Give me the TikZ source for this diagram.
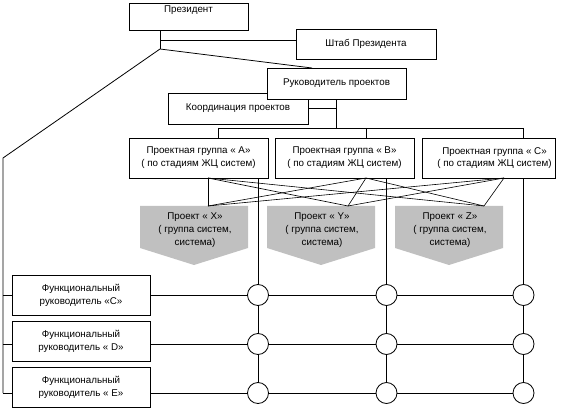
\documentclass[tikz,border=0pt]{standalone}
\usepackage{fontspec}
\setmainfont{Liberation Sans}
\begin{document}
\begin{tikzpicture}[x=1pt,y=-1pt,
  box/.style={draw, fill=white, line width=0.8pt, inner sep=0pt, align=center, font=\fontsize{9.8}{12.8}\selectfont},
  lbl/.style={inner sep=0pt, align=center, font=\fontsize{9.8}{12.8}\selectfont},
  knot/.style={circle, draw, fill=white, line width=0.8pt, minimum size=21pt, inner sep=0pt},
  wire/.style={line width=0.8pt},
  thin wire/.style={line width=0.6pt}]
\definecolor{projgray}{RGB}{192,192,192}
\useasboundingbox (0,0) rectangle (565,414);

% top boxes
\node[box, minimum width=119pt, minimum height=27pt,
  label={[lbl,anchor=north,yshift=-3pt]north:Президент}] (pres) at (188.5,16.5) {};
\node[box, minimum width=140pt, minimum height=30pt] (shtab) at (366,44) {Штаб Президента};
\node[box, minimum width=140pt, minimum height=31pt] (koord) at (238,108.5) {Координация проектов};
\node[box, minimum width=139pt, minimum height=31pt] (ruk) at (336.5,83.5) {Руководитель проектов};

% project groups
\node[box, minimum width=139pt, minimum height=40pt] (gA) at (198.5,158) {Проектная группа « A»\\( по стадиям ЖЦ систем)};
\node[box, minimum width=139pt, minimum height=40pt] (gB) at (344.5,158) {Проектная группа « B»\\( по стадиям ЖЦ систем)};
\node[box, minimum width=133pt, minimum height=40pt,
  label={[lbl,xshift=6pt]center:{Проектная группа « C»\\( по стадиям ЖЦ систем)}}] (gC) at (488.5,158) {};

% projects
\foreach \n/\cx/\t in {X/194/X,Y/321/Y,Z/449/Z}{
  \fill[projgray] (\cx-54,206) -- (\cx+54,206) -- (\cx+54,248) -- (\cx,265) -- (\cx-54,248) -- cycle;
  \node[lbl] (p\n) at (\cx+1,230) {Проект « \t»\\( группа систем,\\система)};
}

% functional managers
\node[box, minimum width=138pt, minimum height=40pt] (f1) at (81,295) {Функциональный\\руководитель «C»};
\node[box, minimum width=138pt, minimum height=40pt] (f2) at (81,341) {Функциональный\\руководитель « D»};
\node[box, minimum width=138pt, minimum height=40pt] (f3) at (81,387) {Функциональный\\руководитель « E»};

% matrix knots
\foreach \r/\y in {1/295,2/344,3/393}{
  \node[knot] (c\r1) at (258,\y) {};
  \node[knot] (c\r2) at (386.5,\y) {};
  \node[knot] (c\r3) at (523.5,\y) {};
}

% coordinates
\coordinate (ps) at (160,40);
\coordinate (pj) at (160,49);
\coordinate (rk) at (312,68);
\coordinate (lt) at (3,158);
\coordinate (lb) at (3,393);
\coordinate (busA) at (218,128);
\coordinate (busR) at (336.5,128);
\coordinate (busB) at (366,128);
\coordinate (busC) at (523.5,128);
\coordinate (oA) at (208,178);
\coordinate (oB) at (366,178);
\coordinate (oC) at (504,178);
\coordinate (iX) at (208,206);
\coordinate (iY) at (348,206);
\coordinate (iZ) at (484,206);

% president connections
\draw[wire] (pres.south -| pj) -- (pj);
\draw[wire] (ps) -- (ps -| shtab.west);
\draw[wire] (pj) -- (rk);
\draw[wire] (pj) -- (lt) -- (lb);
\draw[wire] (lt |- c11) -- (f1.west |- c11);
\draw[wire] (lt |- c21) -- (f2.west |- c21);
\draw[wire] (lt |- c31) -- (f3.west |- c31);

% project leader connections
\draw[wire] (koord.east) -- (koord.east -| ruk.south);
\draw[wire] (ruk.south) -- (busR);
\draw[wire] (busA) -- (busC);
\draw[wire] (busA) -- (busA |- gA.north);
\draw[wire] (busB) -- (busB |- gB.north);
\draw[wire] (busC) -- (busC |- gC.north);

% groups to projects
\foreach \o in {oA,oB,oC}{
  \foreach \i in {iX,iY,iZ}{
    \draw[thin wire] (\o) -- (\i);
  }
}

% columns
\draw[wire] (gA.south -| c11) -- (c11);
\draw[wire] (gB.south -| c12) -- (c12);
\draw[wire] (gC.south -| c13) -- (c13);
\foreach \c in {1,2,3}{
  \draw[wire] (c1\c) -- (c2\c);
  \draw[wire] (c2\c) -- (c3\c);
}
% rows
\foreach \r in {1,2,3}{
  \draw[wire] (f\r.east |- c\r1) -- (c\r1);
  \draw[wire] (c\r1) -- (c\r2);
  \draw[wire] (c\r2) -- (c\r3);
}
\end{tikzpicture}
\end{document}
